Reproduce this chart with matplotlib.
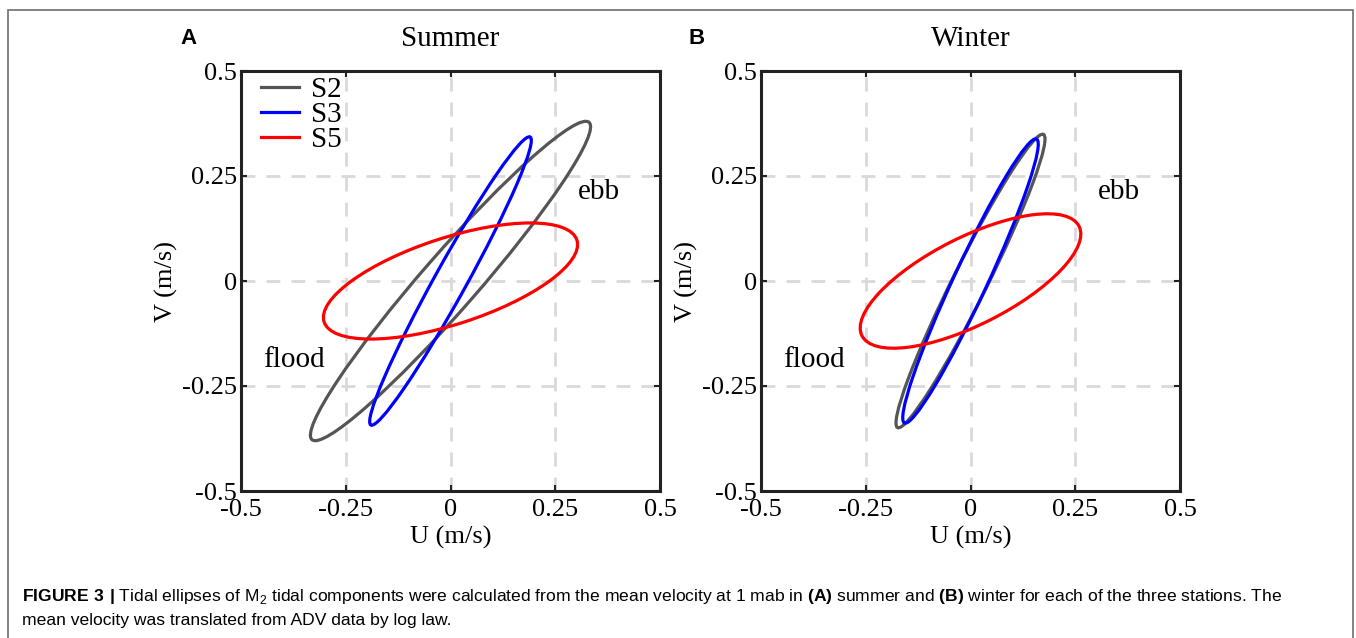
import matplotlib
matplotlib.use('Agg')
import matplotlib.pyplot as plt
from matplotlib.patches import Ellipse, Rectangle
from matplotlib.lines import Line2D

# tidal ellipse parameters: semi-major, semi-minor (m/s), inclination (deg)
stations = ['S2', 'S3', 'S5']
colors = ['#555555', '#0000ff', '#ff0000']

summer_major = [0.502, 0.392, 0.317]
summer_minor = [0.066, 0.038, 0.103]
summer_incl = [48.8, 61.0, 17.9]

winter_major = [0.390, 0.373, 0.290]
winter_minor = [0.041, 0.040, 0.104]
winter_incl = [63.5, 65.0, 26.7]

ticks = [-0.5, -0.25, 0, 0.25, 0.5]
tick_labels = ['-0.5', '-0.25', '0', '0.25', '0.5']

serif = ['Liberation Serif', 'DejaVu Serif']
plt.rcParams['font.family'] = serif
plt.rcParams['mathtext.fontset'] = 'custom'
plt.rcParams['mathtext.rm'] = 'Liberation Sans'
plt.rcParams['mathtext.bf'] = 'Liberation Sans:bold'

fig = plt.figure(figsize=(13.56, 6.38), dpi=100)

W, H = 1356.0, 638.0
ax1 = fig.add_axes([241 / W, 1 - 491 / H, 419 / W, 420 / H])
ax2 = fig.add_axes([761 / W, 1 - 491 / H, 419 / W, 420 / H])


def draw_panel(ax, major, minor, incl, title):
    for i in range(len(stations)):
        e = Ellipse((0, 0), 2 * major[i], 2 * minor[i], angle=incl[i],
                    fill=False, edgecolor=colors[i], lw=2.3, zorder=3)
        ax.add_patch(e)
    ax.set_xlim(-0.5, 0.5)
    ax.set_ylim(-0.5, 0.5)
    ax.set_xticks(ticks)
    ax.set_yticks(ticks)
    ax.set_xticklabels(tick_labels)
    ax.set_yticklabels(tick_labels)
    ax.grid(True, color='#d9d9d9', linestyle=(0, (5, 4)), lw=2.0)
    ax.tick_params(direction='in', length=4, width=1.5, labelsize=19,
                   top=True, right=True, pad=6, color='#222222')
    ax.tick_params(axis='y', pad=3)
    for s in ax.spines.values():
        s.set_linewidth(2.2)
        s.set_color('#222222')
    ax.set_xlabel('U (m/s)', fontsize=19, labelpad=3)
    ax.set_ylabel('V (m/s)', fontsize=19, labelpad=3)
    ax.set_title(title, fontsize=21, pad=18)
    ax.text(0.355, 0.213, 'ebb', fontsize=21, ha='center', va='center')
    ax.text(-0.373, -0.188, 'flood', fontsize=21, ha='center', va='center')


draw_panel(ax1, summer_major, summer_minor, summer_incl, 'Summer')
draw_panel(ax2, winter_major, winter_minor, winter_incl, 'Winter')

handles = [Line2D([], [], color=c, lw=2.3) for c in colors]
ax1.legend(handles, stations, loc='upper left', frameon=False, fontsize=21,
           handlelength=1.3, handletextpad=0.4, labelspacing=-0.05,
           borderaxespad=0.3, bbox_to_anchor=(0.0, 1.035))

fig.text(180 / W, 1 - 38 / H, 'A', fontsize=16, fontweight='bold',
         family=['Liberation Sans', 'DejaVu Sans'], ha='left', va='center')
fig.text(688 / W, 1 - 38 / H, 'B', fontsize=16, fontweight='bold',
         family=['Liberation Sans', 'DejaVu Sans'], ha='left', va='center')

# caption
cap1 = (r'$\bf{FIGURE\ 3\ |}$ Tidal ellipses of M$_2$ tidal components were calculated '
        r'from the mean velocity at 1 mab in $\bf{(A)}$ summer and $\bf{(B)}$ winter '
        r'for each of the three stations. The')
cap2 = 'mean velocity was translated from ADV data by log law.'
capfont = ['Liberation Sans', 'DejaVu Sans']
fig.text(22 / W, 1 - 596 / H, cap1, fontsize=12.6, family=capfont, va='center')
fig.text(22 / W, 1 - 621 / H, cap2, fontsize=12.6, family=capfont, va='center')

# outer frame
fig.patches.append(Rectangle((8 / W, -0.05), 1345 / W, 1.05 - 10 / H,
                             transform=fig.transFigure, fill=False,
                             edgecolor='#6e6e6e', lw=1.2))

fig.savefig('out.png', dpi=100)
